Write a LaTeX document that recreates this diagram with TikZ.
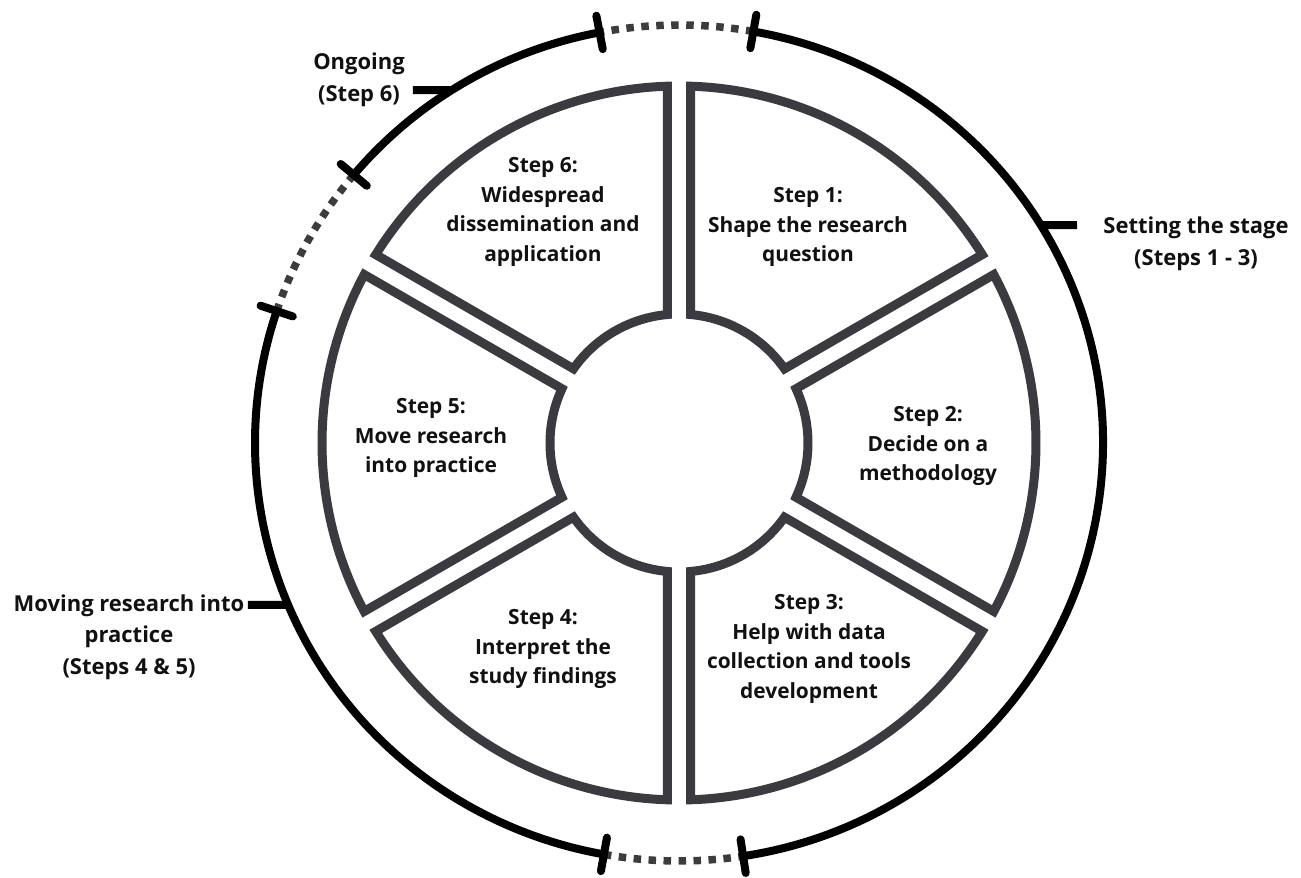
\documentclass[tikz,border=0pt]{standalone}
\usepackage{fontspec}
\setmainfont{Open Sans}
\definecolor{segc}{HTML}{3A3A40}
\definecolor{dotc}{HTML}{3C3C3C}
\definecolor{txt}{HTML}{111111}
\tikzset{
  seg/.style={draw=segc, line width=0.18cm, fill=white, line join=miter},
  ringarc/.style={draw=black, line width=0.16cm, x radius=424, y radius=418},
  dotarc/.style={draw=dotc, line width=0.15cm, dash pattern=on 0.15cm off 0.15cm, x radius=424, y radius=418},
  endtick/.style={draw=black, line width=0.16cm, line cap=round},
  labtick/.style={draw=black, line width=0.16cm},
  steptext/.style={align=center, text=txt, inner sep=0pt,
    font=\fontsize{11.9pt}{17pt}\selectfont\bfseries},
  ringtext/.style={align=center, text=txt, inner sep=0pt,
    font=\fontsize{12.5pt}{18pt}\selectfont\bfseries}
}
\begin{document}
\begin{tikzpicture}[x=0.02cm,y=0.02cm]
\useasboundingbox[fill=white] (-679,-435) rectangle (622,443);
\def\Ro{357}
\def\Ri{129}
\def\gapo{1.85}
\def\gapi{5.12}
% wheel segments
\foreach \c in {60,0,-60,-120,-180,-240} {
  \draw[seg] ({\c+30-\gapo}:\Ro) arc[start angle={\c+30-\gapo}, end angle={\c-30+\gapo}, radius=\Ro]
    -- ({\c-30+\gapi}:\Ri) arc[start angle={\c-30+\gapi}, end angle={\c+30-\gapi}, radius=\Ri] -- cycle;
}
% step texts
\node[steptext] (s1) at (129,216) {Step 1:\\Shape the research\\question};
\node[steptext] (s2) at (249,-3) {Step 2:\\Decide on a\\methodology};
\node[steptext] (s3) at (130,-206) {Step 3:\\Help with data\\collection and tools\\development};
\node[steptext] (s4) at (-136,-206) {Step 4:\\Interpret the\\study findings};
\node[steptext] (s5) at (-248,5) {Step 5:\\Move research\\into practice};
\node[steptext] (s6) at (-136,231) {Step 6:\\Widespread\\dissemination and\\application};
% outer ring: solid arcs
\draw[ringarc] (79.9:424 and 418) arc[start angle=79.9, end angle=-81.3];
\draw[ringarc] (100.8:424 and 418) arc[start angle=100.8, end angle=140.1];
\draw[ringarc] (161.6:424 and 418) arc[start angle=161.6, end angle=259.8];
% dotted arcs
\draw[dotarc] (79.9:424 and 418) arc[start angle=79.9, end angle=100.8];
\draw[dotarc] (140.1:424 and 418) arc[start angle=140.1, end angle=161.6];
\draw[dotarc] (259.8:424 and 418) arc[start angle=259.8, end angle=278.7];
% end ticks
\foreach \a in {79.9,100.8,140.1,161.6,259.8,278.7} {
  \draw[endtick] (\a:407 and 401) -- (\a:441 and 435);
}
% ring labels
\node[ringtext] (lab1) at (-320,363) {Ongoing\\(Step 6)};
\node[ringtext] (lab2) at (517,199) {Setting the stage\\(Steps 1 - 3)};
\node[ringtext] (lab3) at (-550,-194) {Moving research into\\practice\\(Steps 4 \& 5)};
\coordinate (og) at (122.4:424 and 418);
\coordinate (ogEnd) at (-266,352.9);
\coordinate (st) at (31.4:424 and 418);
\coordinate (stEnd) at (398,217.9);
\coordinate (mv) at (202.8:424 and 418);
\coordinate (mvEnd) at (-431,-162);
\draw[labtick] (ogEnd) -- (og);
\draw[labtick] (stEnd) -- (st);
\draw[labtick] (mvEnd) -- (mv);
\end{tikzpicture}
\end{document}
